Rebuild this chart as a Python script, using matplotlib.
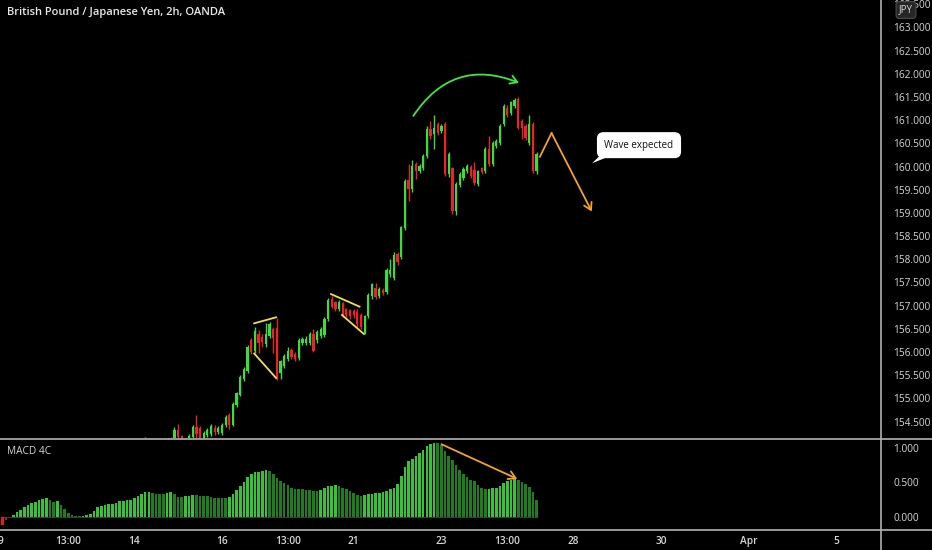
import numpy as np
import matplotlib.pyplot as plt
from matplotlib.patches import FancyArrowPatch, Polygon
from matplotlib.lines import Line2D

plt.rcParams['font.family'] = ['Open Sans', 'DejaVu Sans']

# 2h bars, bar 0 = 9 Mar, 12 bars per trading day
first_bar = 39
opens = [153.95, 154.02, 153.90, 153.98, 153.88, 153.95, 154.02, 154.10, 154.06, 154.32,
         154.20, 154.10, 154.02, 154.17, 154.38, 154.36, 154.15, 154.22, 154.23, 154.37,
         154.28, 154.25, 154.42, 154.65, 154.43, 154.86, 155.08, 155.42, 155.60, 156.27,
         156.02, 156.40, 156.33, 156.18, 156.34, 156.50, 156.53, 155.55, 155.70, 155.85,
         156.05, 155.96, 155.87, 156.20, 156.19, 156.19, 156.40, 156.27, 156.34, 156.37,
         156.72, 157.15, 157.07, 156.92, 157.05, 156.92, 156.90, 156.88, 156.86, 156.80,
         156.42, 156.78, 157.20, 157.38, 157.20, 157.33, 157.30, 157.68, 157.60, 158.12,
         158.04, 158.68, 159.70, 159.52, 160.05, 159.90, 159.97, 160.23, 160.81, 160.70,
         160.92, 160.77, 160.92, 159.84, 159.97, 159.04, 159.60, 159.75, 159.90, 160.00,
         159.93, 159.62, 159.97, 159.90, 160.38, 160.06, 160.45, 160.51, 160.92, 161.27,
         161.15, 161.31, 161.46, 160.99, 160.88, 160.51, 160.92, 159.90]
highs = [154.17, 154.06, 154.02, 154.03, 154.00, 154.08, 154.12, 154.16, 154.38, 154.46,
         154.22, 154.12, 154.24, 154.43, 154.65, 154.40, 154.30, 154.36, 154.45, 154.42,
         154.40, 154.48, 154.64, 154.68, 154.92, 155.15, 155.50, 155.68, 156.15, 156.30,
         156.55, 156.47, 156.38, 156.62, 156.65, 156.55, 156.73, 155.83, 155.95, 156.10,
         156.08, 156.00, 156.30, 156.33, 156.34, 156.44, 156.50, 156.48, 156.55, 156.75,
         157.17, 157.20, 157.10, 157.12, 157.08, 156.95, 156.93, 156.92, 156.92, 156.85,
         156.80, 157.28, 157.50, 157.50, 157.40, 157.38, 157.82, 158.00, 158.15, 158.16,
         158.72, 159.72, 160.06, 160.14, 160.10, 160.05, 160.28, 160.88, 160.99, 161.10,
         160.96, 160.92, 160.96, 160.32, 160.00, 159.67, 159.88, 159.98, 160.06, 160.04,
         160.10, 159.93, 160.00, 160.42, 160.66, 160.55, 160.60, 160.92, 161.35, 161.32,
         161.42, 161.48, 161.50, 161.02, 160.92, 161.10, 160.96, 160.31]
lows = [153.90, 153.85, 153.82, 153.80, 153.84, 153.90, 153.96, 153.98, 154.02, 154.10,
        154.00, 153.95, 153.98, 154.12, 154.13, 154.10, 154.10, 154.18, 154.20, 154.22,
        154.24, 154.22, 154.38, 154.35, 154.40, 154.82, 155.05, 155.38, 155.56, 155.95,
        155.98, 155.98, 156.10, 156.12, 156.30, 155.98, 155.40, 155.42, 155.66, 155.80,
        155.85, 155.80, 155.84, 156.15, 156.15, 156.15, 156.00, 156.20, 156.30, 156.33,
        156.68, 156.94, 156.88, 156.88, 156.75, 156.75, 156.72, 156.74, 156.55, 156.50,
        156.38, 156.74, 157.15, 157.15, 157.16, 157.22, 157.26, 157.62, 157.55, 157.88,
        158.00, 158.64, 159.25, 159.45, 159.73, 159.86, 159.93, 160.18, 160.60, 160.38,
        160.68, 160.72, 159.80, 159.78, 158.98, 158.95, 159.55, 159.70, 159.86, 159.75,
        159.60, 159.58, 159.84, 159.86, 160.02, 160.02, 160.40, 160.46, 160.88, 161.06,
        161.10, 161.27, 160.80, 160.60, 160.58, 160.47, 159.86, 159.84]
closes = [154.05, 153.90, 153.98, 153.88, 153.95, 154.02, 154.10, 154.06, 154.33, 154.17,
          154.10, 154.02, 154.20, 154.38, 154.24, 154.15, 154.26, 154.32, 154.41, 154.27,
          154.37, 154.43, 154.60, 154.43, 154.88, 155.12, 155.47, 155.64, 156.12, 156.00,
          156.45, 156.20, 156.22, 156.40, 156.60, 156.30, 155.45, 155.80, 155.92, 156.02,
          155.90, 155.86, 156.27, 156.28, 156.29, 156.40, 156.03, 156.44, 156.50, 156.72,
          157.13, 156.98, 156.93, 157.07, 156.80, 156.80, 156.78, 156.80, 156.60, 156.55,
          156.77, 157.24, 157.46, 157.18, 157.35, 157.27, 157.78, 157.78, 158.10, 157.95,
          158.70, 159.68, 159.52, 160.01, 159.90, 160.01, 160.23, 160.81, 160.66, 160.84,
          160.73, 160.87, 159.84, 160.27, 159.04, 159.62, 159.84, 159.95, 160.01, 159.79,
          159.64, 159.90, 159.88, 160.38, 160.06, 160.51, 160.55, 160.88, 161.31, 161.10,
          161.38, 161.44, 160.84, 160.84, 160.62, 160.92, 159.90, 160.27]

macd_hist = [-0.112, -0.039, 0.007, 0.035, 0.065, 0.106, 0.139, 0.170, 0.203, 0.223,
             0.239, 0.261, 0.271, 0.249, 0.222, 0.235, 0.174, 0.112, 0.058, 0.022,
             0.010, 0.009, 0.017, 0.029, 0.049, 0.090, 0.138, 0.159, 0.178, 0.188,
             0.191, 0.201, 0.230, 0.236, 0.243, 0.252, 0.267, 0.301, 0.339, 0.364,
             0.365, 0.351, 0.339, 0.333, 0.332, 0.341, 0.359, 0.326, 0.283, 0.282,
             0.297, 0.310, 0.322, 0.316, 0.309, 0.304, 0.297, 0.288, 0.280, 0.279,
             0.278, 0.274, 0.293, 0.333, 0.394, 0.442, 0.512, 0.574, 0.620, 0.646,
             0.655, 0.664, 0.675, 0.664, 0.623, 0.564, 0.520, 0.491, 0.459, 0.423,
             0.406, 0.405, 0.400, 0.396, 0.387, 0.375, 0.372, 0.388, 0.414, 0.441,
             0.454, 0.459, 0.442, 0.417, 0.406, 0.381, 0.351, 0.319, 0.303, 0.319,
             0.336, 0.338, 0.348, 0.349, 0.359, 0.371, 0.397, 0.420, 0.471, 0.594,
             0.725, 0.804, 0.842, 0.883, 0.922, 0.971, 1.029, 1.055, 1.068, 1.065,
             1.032, 0.948, 0.880, 0.826, 0.748, 0.680, 0.617, 0.572, 0.539, 0.513,
             0.459, 0.416, 0.397, 0.410, 0.412, 0.422, 0.446, 0.491, 0.514, 0.535,
             0.555, 0.536, 0.507, 0.470, 0.428, 0.362, 0.246]

tick_pos = [-0.5, 18, 36, 60, 78, 96, 120, 138, 156, 180, 204, 228]
tick_labels = ['9', '13:00', '14', '16', '13:00', '21', '23', '13:00', '28', '30', 'Apr', '5']
price_ticks = np.arange(154.5, 163.51, 0.5)
macd_ticks = [0.0, 0.5, 1.0]

W, H = 932, 550
fig = plt.figure(figsize=(W / 100, H / 100), dpi=100, facecolor='black')
right = 881 / W
ax = fig.add_axes([0, 1 - 439 / H, right, 439 / H], facecolor='black')
axm = fig.add_axes([0, 1 - 529.5 / H, right, (529.5 - 439) / H], facecolor='black', sharex=ax)

# candles
o = np.array(opens); h = np.array(highs); l = np.array(lows); c = np.array(closes)
x = np.arange(first_bar, first_bar + len(o))
up = c >= o
col = np.where(up, '#3ddc3d', '#ee2222')
ax.vlines(x, l, h, colors=col, lw=1.0)
ax.bar(x, np.maximum(np.abs(c - o), 0.012), bottom=np.minimum(o, c), width=0.62, color=col, lw=0)

# MACD 4C histogram
m = np.array(macd_hist)
xm = np.arange(len(m))
d = np.diff(m, prepend=m[0] + 0.01)
mcol = np.where(m >= 0, np.where(d >= 0, '#35c435', '#1f7d1f'),
                np.where(d < 0, '#e01b1b', '#b01818'))
axm.bar(xm, m, width=0.72, color=mcol, lw=0)
axm.hlines(0, -0.5, len(m) - 0.5, color='#3a3a3a', lw=0.8, zorder=0)

ax.set_xlim(-2.5 / 3.658, (881 - 2.5) / 3.658)
ax.set_ylim(163 - (439 - 27.3) / 46.4, 163 + 27.3 / 46.4)
axm.set_ylim(-(529.5 - 517) / 69.3, (517 - 439) / 69.3)

for a in (ax, axm):
    for s in a.spines.values():
        s.set_visible(False)
    a.yaxis.tick_right()
    a.tick_params(axis='y', length=0, pad=9, labelcolor='#d6d6d6', labelsize=7.3)
ax.set_yticks(price_ticks, [f'{v:.3f}' for v in price_ticks])
axm.set_yticks(macd_ticks, [f'{v:.3f}' for v in macd_ticks])
ax.tick_params(axis='x', bottom=False, labelbottom=False)
axm.set_xticks(tick_pos, tick_labels, fontweight='semibold')
axm.tick_params(axis='x', length=0, pad=5, labelcolor='#d6d6d6', labelsize=7.3)

# drawings
ax.plot([68.8, 74.8], [156.62, 156.75], color='#f2e04a', lw=1.3)
ax.plot([68.8, 74.8], [155.97, 155.44], color='#f2e04a', lw=1.3)
ax.plot([89.8, 97.6], [157.25, 156.98], color='#f2e04a', lw=1.3)
ax.plot([92.8, 98.8], [156.80, 156.39], color='#f2e04a', lw=1.3)

ax.add_patch(FancyArrowPatch((111.9, 161.04), (141.9, 161.78),
                             connectionstyle='arc3,rad=-0.42',
                             arrowstyle='->,head_length=5,head_width=3',
                             color='#3ee83e', lw=1.3))
ax.plot([146.9, 150.1], [160.21, 160.72], color='#f5a228', lw=1.3)
ax.add_patch(FancyArrowPatch((150.1, 160.72), (161.1, 159.03),
                             arrowstyle='->,head_length=5,head_width=3',
                             color='#f5a228', lw=1.3, shrinkA=0, shrinkB=0))
axm.add_patch(FancyArrowPatch((120, 1.05), (140.7, 0.55),
                              arrowstyle='->,head_length=5,head_width=3',
                              color='#f5a228', lw=1.3, shrinkA=0, shrinkB=0))

ax.add_patch(Polygon([(163.5, 160.25), (166.8, 160.25), (161.2, 160.07)],
                     closed=True, fc='white', ec='none'))
ax.text(174.0, 160.46, 'Wave expected', ha='center', va='center', fontsize=7, color='#111111',
        bbox=dict(boxstyle='round,pad=0.7,rounding_size=0.6', fc='white', ec='white'))

# panel frame lines
for yy in (439, 529.5):
    fig.add_artist(Line2D([0, 1], [1 - yy / H] * 2, transform=fig.transFigure, color='#9a9a9a', lw=1.4))
fig.add_artist(Line2D([right, right], [0, 1], transform=fig.transFigure, color='#b0b0b0', lw=1.2))

fig.text(7 / W, 1 - 12 / H, 'British Pound / Japanese Yen, 2h, OANDA', va='center', ha='left',
         fontsize=8, fontweight='semibold', color='#e8e8e8')
fig.text(7 / W, 1 - 452 / H, 'MACD 4C', va='center', ha='left', fontsize=7.3, color='#d6d6d6')
fig.text(906 / W, 1 - 10 / H, 'JPY', va='center', ha='center', fontsize=7, color='#d6d6d6',
         bbox=dict(boxstyle='round,pad=0.3', fc='#262626', ec='#4a4a4a', lw=0.8))

fig.savefig('out.png', dpi=100, facecolor='black')
